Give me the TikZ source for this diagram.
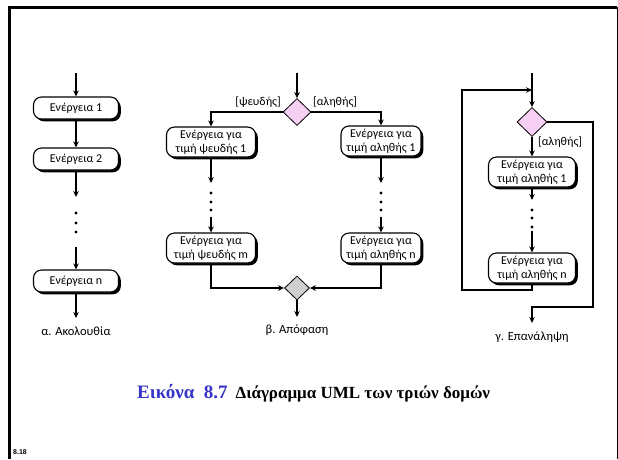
\documentclass[tikz,border=0pt]{standalone}
\usepackage{fontspec}
\setmainfont{Liberation Serif}
\newfontfamily\boxfont{Carlito}
\newfontfamily\pagefont{Liberation Sans}
\usetikzlibrary{arrows.meta,shapes.geometric,shadows}
\definecolor{decpink}{HTML}{F7CFF2}
\definecolor{mergegray}{HTML}{CFCFCF}
\definecolor{capblue}{HTML}{3535C8}
\begin{document}
\begin{tikzpicture}[x=1pt,y=-1pt,
  flow/.style={line width=1.35pt},
  arr/.style={flow,-{Stealth[length=6pt,width=5.5pt]}},
  action/.style={draw,line width=1.1pt,rounded corners=8pt,fill=white,
    font=\boxfont\fontsize{12}{13.5}\selectfont,align=center,inner sep=0.5pt,
    drop shadow={shadow xshift=2.3pt,shadow yshift=-2.3pt,fill=black,opacity=1}},
  single/.style={action,minimum width=85pt,minimum height=22pt},
  double/.style={action,minimum height=30pt},
  decision/.style={draw,line width=0.8pt,diamond,fill=decpink,inner sep=0pt,
    minimum width=28pt,minimum height=27pt},
  merge/.style={draw,line width=0.8pt,diamond,fill=mergegray,inner sep=0pt,
    minimum width=25pt,minimum height=24pt},
  guard/.style={font=\boxfont\fontsize{12}{13}\selectfont,inner sep=1pt},
  caption/.style={font=\boxfont\fontsize{12.5}{14}\selectfont},
  dot/.style={circle,fill=black,inner sep=0pt,minimum size=3.4pt}
]
\useasboundingbox (0,0) rectangle (618,459);
\fill[white] (0,0) rectangle (618,459);

% page frame
\draw[line width=3pt] (7.5,7) -- (617,7);
\draw[line width=3pt] (9,7) -- (9,459);
\draw[line width=1pt] (617,7) -- (617,459);
\node[anchor=west,font=\pagefont\bfseries\fontsize{7}{8}\selectfont,inner sep=0pt] (pageno) at (13,452) {8.18};

% ---------- (a) sequence ----------
\coordinate (aStart) at (76,73);
\node[single] (a1) at (76,108) {Ενέργεια 1};
\node[single] (a2) at (76,159) {Ενέργεια 2};
\coordinate (aGap1) at (76,197);
\node[dot] (ad1) at (76,213) {};
\node[dot] (ad2) at (76,223) {};
\node[dot] (ad3) at (76,232) {};
\coordinate (aGap2) at (76,247);
\node[single] (an) at (76,281) {Ενέργεια n};
\coordinate (aEnd) at (76,318);
\node[caption] (aLabel) at (76,331) {α. Ακολουθία};

\draw[arr] (aStart) -- (a1);
\draw[arr] (a1) -- (a2);
\draw[arr] (a2) -- (aGap1);
\draw[arr] (aGap2) -- (an);
\draw[arr] (an) -- (aEnd);

% ---------- (b) decision ----------
\coordinate (bStart) at (297,73);
\node[decision] (bD) at (297,112) {};
\node[double,minimum width=89pt] (bL1) at (211,142) {Ενέργεια για\\τιμή ψευδής 1};
\node[double,minimum width=80pt] (bR1) at (381,141) {Ενέργεια για\\τιμή αληθής 1};
\coordinate (bLg1) at (211,183);
\coordinate (bRg1) at (381,183);
\node[dot] (bLd1) at (211,193) {};
\node[dot] (bLd2) at (211,202) {};
\node[dot] (bLd3) at (211,210) {};
\node[dot] (bRd1) at (381,193) {};
\node[dot] (bRd2) at (381,202) {};
\node[dot] (bRd3) at (381,210) {};
\coordinate (bLg2) at (211,217);
\coordinate (bRg2) at (381,217);
\node[double,minimum width=89pt] (bLm) at (211,248) {Ενέργεια για\\τιμή ψευδής m};
\node[double,minimum width=80pt] (bRn) at (381,248) {Ενέργεια για\\τιμή αληθής n};
\node[merge] (bM) at (297,288) {};
\coordinate (bEnd) at (297,317);
\node[caption] (bLabel) at (297,330) {β. Απόφαση};
\node[guard,anchor=south east] (bFalse) at (282,109) {[ψευδής]};
\node[guard,anchor=south west] (bTrue) at (312,109) {[αληθής]};

\draw[arr] (bStart) -- (bD);
\draw[arr] (bD.west) -| (bL1.north);
\draw[arr] (bD.east) -| (bR1.north);
\draw[arr] (bL1) -- (bLg1);
\draw[arr] (bR1) -- (bRg1);
\draw[arr] (bLg2) -- (bLm);
\draw[arr] (bRg2) -- (bRn);
\draw[arr] (bLm.south) |- (bM.west);
\draw[arr] (bRn.south) |- (bM.east);
\draw[arr] (bM) -- (bEnd);

% ---------- (c) repetition ----------
\coordinate (cStart) at (532,73);
\coordinate (cJoin) at (532,90);
\node[decision,minimum width=30pt,minimum height=29pt] (cD) at (532,122) {};
\node[double,minimum width=87pt] (c1) at (532,172) {Ενέργεια για\\τιμή αληθής 1};
\coordinate (cg1) at (532,200);
\node[dot] (cd1) at (532,210) {};
\node[dot] (cd2) at (532,218) {};
\node[dot] (cd3) at (532,227) {};
\coordinate (cg2) at (532,231);
\node[double,minimum width=87pt] (cn) at (532,268) {Ενέργεια για\\τιμή αληθής n};
\coordinate (cBack) at (462,290);
\coordinate (cExit) at (593,307);
\coordinate (cEnd) at (532,323);
\node[caption] (cLabel) at (532,337) {γ. Επανάληψη};
\node[guard,anchor=west] (cTrue) at (537,142) {[αληθής]};

\draw[arr] (cStart) -- (cD);
\draw[arr] (cD) -- (c1);
\draw[arr] (c1) -- (cg1);
\draw[arr] (cg2) -- (cn);
\draw[arr] (cn.south) |- (cBack) |- (cJoin);
\draw[arr] (cD.east) -| (cExit) -| (cEnd);

% ---------- caption ----------
\node[anchor=base west,inner sep=0pt] (figcap) at (137,398)
  {\textcolor{capblue}{\bfseries\fontsize{19}{22}\selectfont Εικόνα\ \ 8.7}\hspace{8pt}{\bfseries\fontsize{17}{20}\selectfont Διάγραμμα UML των τριών δομών}};
\end{tikzpicture}
\end{document}
